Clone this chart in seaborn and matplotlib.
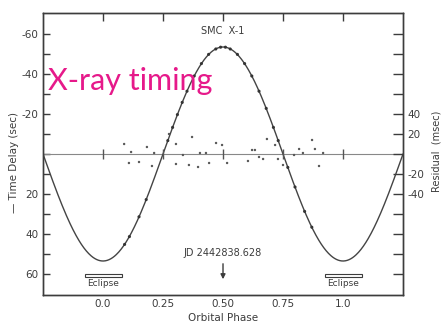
import numpy as np
import pandas as pd
import matplotlib
matplotlib.use("Agg")
import matplotlib.pyplot as plt
from matplotlib.patches import Rectangle
import seaborn as sns

# Orbital phase / time-delay measurements (sec)
phase_obs = [0.09, 0.11, 0.15, 0.18, 0.27, 0.29, 0.31, 0.33, 0.35, 0.38, 0.41,
             0.44, 0.47, 0.49, 0.51, 0.53, 0.56, 0.59, 0.62, 0.65, 0.68, 0.71,
             0.73, 0.77, 0.80, 0.84, 0.87]
delay_obs = [45.2, 41.3, 31.4, 22.8, -6.7, -13.3, -19.7, -25.8, -31.4, -39.0, -45.2,
             -49.8, -52.5, -53.4, -53.4, -52.5, -49.8, -45.2, -39.0, -31.4, -22.8, -13.3,
             -6.7, 6.7, 16.5, 28.7, 36.6]

# Residuals of the orbit fit (msec)
phase_res = [0.088, 0.117, 0.183, 0.213, 0.108, 0.150, 0.204, 0.275, 0.304, 0.371,
             0.471, 0.496, 0.333, 0.404, 0.429, 0.304, 0.358, 0.396, 0.442, 0.517,
             0.621, 0.633, 0.683, 0.717, 0.604, 0.650, 0.667, 0.729, 0.750, 0.817,
             0.871, 0.883, 0.833, 0.796, 0.917, 0.900]
resid_ms = [10, 2, 7, 1, -9, -8, -12, 20, 10, 17,
            11, 9, -1, 1, 1, -10, -11, -13, -9, -9,
            4, 4, 15, 9, -7, -3, -5, -5, -11, 5,
            14, 5, 1, -1, 1, -12]

# Circular-orbit fit: projected semi-axis (light-seconds)
a_sini = 53.5
phase_ticks = [0.0, 0.25, 0.50, 0.75, 1.0]
phase_labels = ["0.0", "0.25", "0.50", "0.75", "1.0"]
eclipse_centers = [0.0, 1.0]

sns.set_style("white")
plt.rcParams["font.family"] = ["DejaVu Sans"]
ink = "#3c3c3c"

fig = plt.figure(figsize=(4.47, 3.24), dpi=100)
ax = fig.add_axes([0.0962, 0.0895, 0.8054, 0.8704])

model = pd.DataFrame({"phase": np.linspace(-0.25, 1.25, 600)})
model["delay"] = a_sini * np.cos(2 * np.pi * model["phase"])
sns.lineplot(data=model, x="phase", y="delay", ax=ax, color="#444444", lw=1.0)

obs = pd.DataFrame({"phase": phase_obs, "delay": delay_obs})
sns.scatterplot(data=obs, x="phase", y="delay", ax=ax, color="#333333", s=5,
                edgecolor="none", zorder=3)

# zero line of the residuals, with phase marks
ax.axhline(0, color="#888888", lw=0.8, zorder=1)
ax.plot(phase_ticks, [0] * len(phase_ticks), ls="none", marker="|", ms=7,
        mew=1.0, color="#555555")

ax.set_xlim(-0.25, 1.25)
ax.set_ylim(70.5, -70.5)
ax.set_xticks(phase_ticks)
ax.set_xticklabels(phase_labels)
ax.set_yticks([-60, -40, -20, 20, 40, 60])
ax.set_yticklabels(["-60", "-40", "-20", "20", "40", "60"])
ax.set_yticks(np.arange(-60, 61, 10), minor=True)
ax.tick_params(axis="x", direction="in", length=6, width=1, top=True,
               colors=ink, labelsize=7.5, pad=3)
ax.tick_params(axis="y", which="both", direction="in", length=5, width=1,
               colors=ink, labelsize=7.5, pad=3)
for s in ax.spines.values():
    s.set_color(ink)
    s.set_linewidth(1.0)

ax.set_xlabel("Orbital Phase", fontsize=7.5, color=ink, va="center")
ax.xaxis.set_label_coords(0.5, -0.082)
ax.set_ylabel("— Time Delay (sec)", fontsize=7.5, color=ink, va="center")
ax.yaxis.set_label_coords(-0.08, 0.47)

# residual axis (msec)
ax2 = ax.twinx()
res = pd.DataFrame({"phase": phase_res, "resid": resid_ms})
sns.scatterplot(data=res, x="phase", y="resid", ax=ax2, color="#555555", s=3,
                edgecolor="none")
ax2.set_ylim(-141, 141)
ax2.set_yticks([-40, -20, 20, 40])
ax2.set_yticklabels(["-40", "-20", "20", "40"])
ax2.set_yticks(np.arange(-120, 121, 20), minor=True)
ax2.tick_params(axis="y", which="both", direction="in", length=7, width=1,
                colors=ink, labelsize=7.5, pad=3)
ax2.set_ylabel("Residual  (msec)", fontsize=7, color=ink, va="center")
ax2.yaxis.set_label_coords(1.094, 0.51)
for s in ax2.spines.values():
    s.set_color(ink)
    s.set_linewidth(1.0)

# annotations
ax.text(0.5, -61.5, "SMC  X-1", ha="center", va="center", fontsize=7, color=ink)
ax.text(0.5, 49.5, "JD 2442838.628", ha="center", va="center", fontsize=7, color=ink)
ax.annotate("", xy=(0.5, 64), xytext=(0.5, 53.5),
            arrowprops=dict(arrowstyle="-|>", color=ink, lw=1.0, mutation_scale=7))
for c in eclipse_centers:
    ax.add_patch(Rectangle((c - 0.077, 60.0), 0.158, 1.6, fill=False,
                           edgecolor=ink, lw=0.8))
    ax.text(c, 64.5, "Eclipse", ha="center", va="center", fontsize=6.5, color=ink)

ax.text(0.014, 0.727, "X-ray timing", transform=ax.transAxes, ha="left",
        va="baseline", fontsize=22, color="#e6198a", family=["Lato", "DejaVu Sans"])

fig.savefig("out.png", dpi=100, facecolor="white")
